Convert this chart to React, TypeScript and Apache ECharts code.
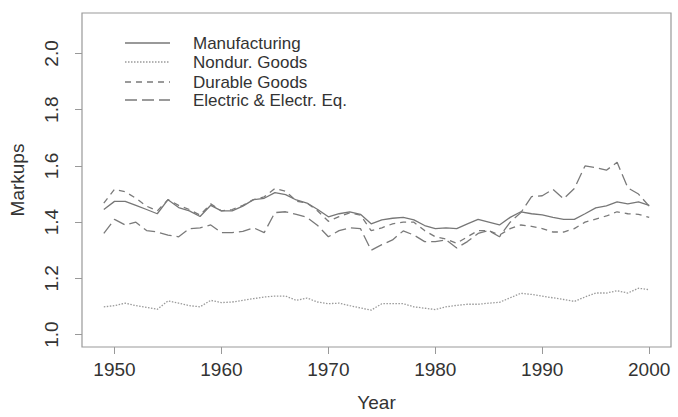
import React, { useEffect, useRef } from "react";
import * as echarts from "echarts";

const years = Array.from({ length: 52 }, (_, i) => 1949 + i);
const xTicks = [1950, 1960, 1970, 1980, 1990, 2000];
const yTicks = [1.0, 1.2, 1.4, 1.6, 1.8, 2.0];
const seriesNames = ["Manufacturing", "Nondur. Goods", "Durable Goods", "Electric & Electr. Eq."];

const manufacturing = [
  1.445, 1.474, 1.474, 1.46, 1.445, 1.43, 1.48, 1.452, 1.44, 1.42,
  1.46, 1.44, 1.44, 1.457, 1.48, 1.485, 1.505, 1.498, 1.479, 1.468,
  1.445, 1.419, 1.43, 1.437, 1.428, 1.394, 1.408, 1.414, 1.417, 1.408,
  1.388, 1.377, 1.38, 1.377, 1.394, 1.41, 1.4, 1.39, 1.417, 1.437,
  1.43, 1.426, 1.417, 1.41, 1.41, 1.43, 1.451, 1.458, 1.472, 1.465,
  1.472, 1.46,
];
const nondurable = [
  1.099, 1.103, 1.112, 1.103, 1.097, 1.09, 1.12, 1.112, 1.103, 1.099,
  1.122, 1.114, 1.116, 1.122, 1.128, 1.134, 1.137, 1.137, 1.122, 1.13,
  1.116, 1.11, 1.112, 1.103, 1.095, 1.087, 1.11, 1.11, 1.11, 1.099,
  1.094, 1.089, 1.099, 1.104, 1.108, 1.108, 1.112, 1.115, 1.131, 1.147,
  1.143, 1.137, 1.131, 1.125, 1.118, 1.134, 1.148, 1.148, 1.156, 1.148,
  1.165, 1.16,
];
const durable = [
  1.468, 1.517, 1.508, 1.485, 1.457, 1.44, 1.48, 1.46, 1.445, 1.425,
  1.465, 1.44, 1.445, 1.46, 1.48, 1.49, 1.52, 1.51, 1.475, 1.468,
  1.44, 1.403, 1.42, 1.433, 1.425, 1.37, 1.38, 1.394, 1.4, 1.4,
  1.37, 1.348, 1.34, 1.325, 1.348, 1.37, 1.37, 1.354, 1.377, 1.39,
  1.385, 1.377, 1.365, 1.365, 1.377, 1.4, 1.411, 1.422, 1.437, 1.43,
  1.428, 1.417,
];
const electric = [
  1.36, 1.41, 1.39, 1.4, 1.37, 1.365, 1.354, 1.348, 1.377, 1.38,
  1.39, 1.363, 1.363, 1.367, 1.38, 1.363, 1.434, 1.437, 1.428, 1.417,
  1.388, 1.348, 1.37, 1.38, 1.377, 1.3, 1.32, 1.337, 1.369, 1.354,
  1.331, 1.331, 1.337, 1.308, 1.331, 1.36, 1.37, 1.348, 1.4, 1.434,
  1.491, 1.494, 1.517, 1.483, 1.52, 1.6, 1.594, 1.585, 1.613, 1.522,
  1.5, 1.457,
];

const seriesValues = [manufacturing, nondurable, durable, electric];
const lineStyles: any[] = [
  { color: "#777", width: 1.3, type: "solid" },
  { color: "#9a9a9a", width: 1.3, type: [1.5, 1.5] },
  { color: "#7a7a7a", width: 1.3, type: [6, 5] },
  { color: "#7a7a7a", width: 1.3, type: [12, 5] },
];

export default function App() {
  const ref = useRef<HTMLDivElement>(null);
  useEffect(() => {
    document.body.style.margin = "0";
    if (!ref.current) return;
    const chart = echarts.init(ref.current, undefined, { renderer: "svg" });
    const font = "'Liberation Sans', Arial, Helvetica, sans-serif";
    const legendRows = [43, 62, 82, 100];
    const graphic: any[] = [];
    seriesNames.forEach((name, i) => {
      graphic.push({
        type: "line",
        shape: { x1: 125, y1: legendRows[i], x2: 170, y2: legendRows[i] },
        style: {
          stroke: lineStyles[i].color,
          lineWidth: 1.3,
          lineDash: lineStyles[i].type === "solid" ? null : lineStyles[i].type,
        },
      });
      graphic.push({
        type: "text",
        x: 193,
        y: legendRows[i],
        style: {
          text: name,
          fill: "#333",
          font: `17px ${font}`,
          verticalAlign: "middle",
          align: "left",
        },
      });
    });
    chart.setOption({
      animation: false,
      textStyle: { fontFamily: font },
      grid: {
        left: 81,
        right: 7,
        top: 13,
        bottom: 59,
        show: true,
        borderColor: "#999",
        borderWidth: 1.2,
        containLabel: false,
      },
      xAxis: {
        type: "value",
        min: 1946.96,
        max: 2002.04,
        name: "Year",
        nameLocation: "middle",
        nameGap: 46,
        nameTextStyle: { color: "#333", fontSize: 19, fontFamily: font },
        axisLine: { show: false },
        splitLine: { show: false },
        axisTick: { show: true, length: 7, lineStyle: { color: "#999" }, customValues: xTicks },
        axisLabel: {
          color: "#333",
          fontSize: 19,
          margin: 13,
          customValues: xTicks,
          fontFamily: font,
          formatter: (v: number) => String(v),
        },
      },
      yAxis: {
        type: "value",
        min: 0.956,
        max: 2.144,
        name: "Markups",
        nameLocation: "middle",
        nameGap: 55,
        nameRotate: 90,
        nameTextStyle: { color: "#333", fontSize: 19, fontFamily: font },
        axisLine: { show: false },
        splitLine: { show: false },
        axisTick: { show: true, length: 7, lineStyle: { color: "#999" }, customValues: yTicks },
        axisLabel: {
          color: "#333",
          fontSize: 19,
          rotate: 90,
          margin: 21,
          customValues: yTicks,
          fontFamily: font,
          formatter: (v: number) => v.toFixed(1),
        },
      },
      graphic,
      series: seriesNames.map((name, i) => ({
        name,
        type: "line",
        showSymbol: false,
        symbol: "none",
        data: years.map((y, j) => [y, seriesValues[i][j]]),
        lineStyle: lineStyles[i],
        z: 2,
      })),
    });
    return () => chart.dispose();
  }, []);
  return <div ref={ref} style={{ width: 678, height: 417 }} />;
}
